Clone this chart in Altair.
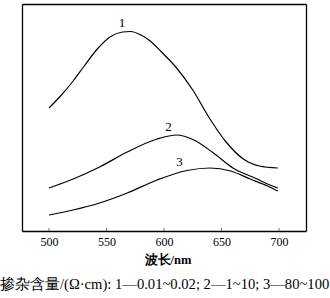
import altair as alt
import pandas as pd

# wavelength (nm) and relative intensity (arbitrary units)
c1_x = [500, 510, 521, 530, 542, 553, 564, 571, 580, 588, 597, 611, 625, 640, 654, 669, 683, 699]
c1_y = [123, 135, 150, 164, 182, 194, 199, 199.5, 196, 190, 180, 163, 141, 112, 89, 72, 65, 63]
c2_x = [500, 521, 544, 568, 594, 611, 626, 643, 660, 681, 690, 699]
c2_y = [43, 52, 64, 79, 92, 96, 91, 78, 63, 52, 47, 43]
c3_x = [500, 521, 544, 568, 594, 620, 640, 658, 675, 690, 699]
c3_y = [16, 21, 28, 38, 51, 60.5, 63, 60, 52, 45, 40]

labels = ["1", "2", "3"]
label_x = [563.5, 604, 613.5]
label_y = [208, 104, 69]

ticks = [500, 550, 600, 650, 700]
x_title = "波长/nm"
caption = "掺杂含量/(Ω·cm): 1—0.01~0.02; 2—1~10; 3—80~100"

X_MIN, X_MAX = 476.5, 723.5
Y_MIN, Y_MAX = 0, 227

SERIF = "Liberation Serif, Times New Roman, serif"

rows = []
for name, xs_, ys_ in [("1", c1_x, c1_y), ("2", c2_x, c2_y), ("3", c3_x, c3_y)]:
    for a, b in zip(xs_, ys_):
        rows.append({"curve": name, "nm": a, "v": b})
df = pd.DataFrame(rows)
lab = pd.DataFrame({"t": labels, "nm": label_x, "v": label_y})
tk = pd.DataFrame({"nm": ticks, "v0": [0] * len(ticks), "v1": [3] * len(ticks)})


def xscale():
    return alt.Scale(domain=[X_MIN, X_MAX], nice=False, zero=False)


def yscale():
    return alt.Scale(domain=[Y_MIN, Y_MAX], nice=False, zero=True)


plain = dict(labels=False, ticks=False, title=None, grid=False, domainColor="black", domainWidth=1.3)

lines = alt.Chart(df).mark_line(color="black", strokeWidth=1.2, interpolate="monotone").encode(
    x=alt.X("nm:Q", scale=xscale(), axis=alt.Axis(values=ticks, title=None, tickSize=0, labelPadding=5,
                                                   labelFont=SERIF, labelFontSize=12, domainWidth=1.3,
                                                   labelColor="black", domainColor="black", grid=False)),
    y=alt.Y("v:Q", scale=yscale(), axis=alt.Axis(orient="left", **plain)),
    detail="curve:N",
)

# top and right frame edges via secondary axes
frame2 = alt.Chart(tk).mark_point(opacity=0).encode(
    x=alt.X("nm:Q", scale=xscale(), axis=alt.Axis(orient="top", **plain)),
    y=alt.Y("v0:Q", scale=yscale(), axis=alt.Axis(orient="right", **plain)),
)

tick_rules = alt.Chart(tk).mark_rule(color="#555", strokeWidth=0.8).encode(
    x=alt.X("nm:Q"), y=alt.Y("v0:Q"), y2="v1:Q"
)

texts = alt.Chart(lab).mark_text(font=SERIF, fontSize=13, color="black", baseline="middle").encode(
    x=alt.X("nm:Q"), y=alt.Y("v:Q"), text="t:N"
)

xt = alt.Chart(pd.DataFrame({"t": [x_title]})).mark_text(
    font=SERIF, fontSize=12.5, fontWeight="bold", color="black", baseline="middle"
).encode(x=alt.value(146), y=alt.value(256), text="t:N")

cap = alt.Chart(pd.DataFrame({"t": [caption]})).mark_text(
    font=SERIF, fontSize=14.6, color="black", baseline="middle", align="left"
).encode(x=alt.value(-22), y=alt.value(281), text="t:N")

main = alt.layer(lines, tick_rules, texts, xt, cap)

chart = alt.layer(main, frame2).resolve_scale(x="independent", y="independent").properties(
    width=284, height=227,
    padding={"left": 22, "top": 4, "right": 24, "bottom": 67},
    autosize=alt.AutoSizeParams(type="none"),
    background="white",
).configure_view(stroke=None)

chart.save("out.html", embed_options={"renderer": "svg", "actions": False})
